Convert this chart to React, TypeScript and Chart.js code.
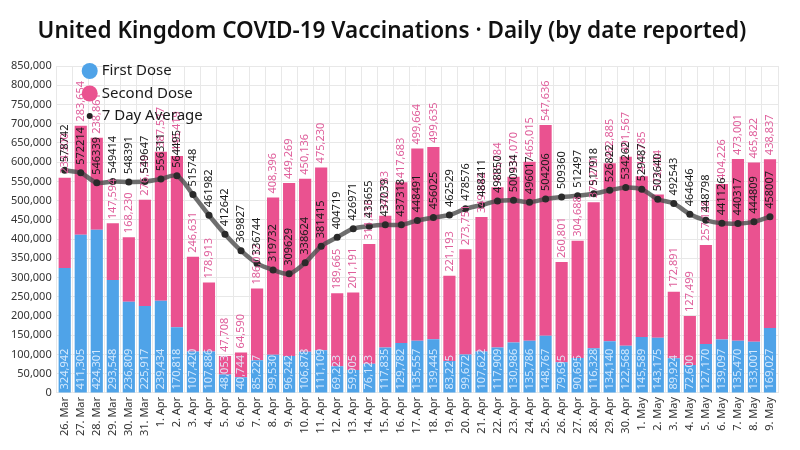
import { useEffect, useRef } from 'react';
import { Chart, registerables } from 'chart.js';

Chart.register(...registerables);

const dates = [
  '26. Mar', '27. Mar', '28. Mar', '29. Mar', '30. Mar', '31. Mar',
  '1. Apr', '2. Apr', '3. Apr', '4. Apr', '5. Apr', '6. Apr', '7. Apr', '8. Apr', '9. Apr', '10. Apr',
  '11. Apr', '12. Apr', '13. Apr', '14. Apr', '15. Apr', '16. Apr', '17. Apr', '18. Apr', '19. Apr', '20. Apr',
  '21. Apr', '22. Apr', '23. Apr', '24. Apr', '25. Apr', '26. Apr', '27. Apr', '28. Apr', '29. Apr', '30. Apr',
  '1. May', '2. May', '3. May', '4. May', '5. May', '6. May', '7. May', '8. May', '9. May',
];

const firstDose = [
  324942, 411305, 424301, 293548, 236809, 225917, 239434, 170818, 107420, 107886,
  48053, 40744, 85227, 99530, 96242, 106878, 111109, 69223, 59905, 76123,
  117835, 129782, 135557, 139445, 83225, 99672, 107622, 117909, 130986, 135786,
  148767, 79695, 90695, 116328, 134140, 122568, 145589, 143175, 89924, 72600,
  127170, 139097, 135470, 133001, 169027,
];

const secondDose = [
  234300, 283654, 238861, 147594, 168230, 276530, 387537, 445419, 246631, 178913,
  47708, 64590, 186012, 408396, 449269, 450136, 475230, 189665, 201191, 311216,
  342783, 417683, 499664, 499635, 221193, 273751, 349842, 416784, 431070, 465015,
  547636, 260801, 304688, 379210, 462885, 491567, 417785, 372404, 172891, 127499,
  257128, 404226, 473001, 465822, 438837,
];

const sevenDayAvg = [
  578742, 572214, 546339, 549414, 548391, 549647, 556311, 564495, 515748, 461982,
  412642, 369827, 336744, 319732, 309629, 338624, 381415, 404719, 426971, 433655,
  437039, 437318, 448491, 456025, 462529, 478576, 488411, 498850, 500934, 496017,
  504206, 509360, 512497, 517918, 526822, 534262, 529487, 503640, 492543, 464646,
  448798, 441126, 440317, 444809, 458007,
];

const seriesNames = ['First Dose', 'Second Dose', '7 Day Average'];

const BLUE = '#4fa3e8';
const PINK = '#ea5290';
const PINK_TEXT = '#df5f9b';
const FONT = '"Noto Sans", sans-serif';

const fmt = (v: number) => v.toLocaleString('en-US');

const labelPlugin = {
  id: 'valueLabels',
  afterDatasetsDraw(chart: any) {
    const ctx = chart.ctx as CanvasRenderingContext2D;
    const drawV = (x: number, y: number, text: string, color: string) => {
      ctx.save();
      ctx.translate(x, y);
      ctx.rotate(-Math.PI / 2);
      ctx.fillStyle = color;
      ctx.fillText(text, 0, 0);
      ctx.restore();
    };
    ctx.save();
    ctx.font = `11px ${FONT}`;
    ctx.textAlign = 'left';
    ctx.textBaseline = 'middle';
    chart.getDatasetMeta(0).data.forEach((el: any, i: number) => {
      const p = el.getProps(['x', 'base'], true);
      drawV(p.x, p.base - 3, fmt(firstDose[i]), 'rgba(225,240,255,0.9)');
    });
    chart.getDatasetMeta(1).data.forEach((el: any, i: number) => {
      const p = el.getProps(['x', 'y'], true);
      drawV(p.x, p.y - 4, fmt(secondDose[i]), PINK_TEXT);
    });
    chart.getDatasetMeta(2).data.forEach((el: any, i: number) => {
      const p = el.getProps(['x', 'y'], true);
      drawV(p.x, p.y - 8, String(sevenDayAvg[i]), '#1a1a1a');
    });
    ctx.restore();
  },
};

const legendPlugin = {
  id: 'innerLegend',
  afterDraw(chart: any) {
    const ctx = chart.ctx as CanvasRenderingContext2D;
    const { left, top } = chart.chartArea;
    const items = [
      { label: seriesNames[0], color: BLUE, r: 8 },
      { label: seriesNames[1], color: PINK, r: 8 },
      { label: seriesNames[2], color: '#222', r: 3 },
    ];
    ctx.save();
    ctx.font = `15px ${FONT}`;
    ctx.textBaseline = 'middle';
    ctx.textAlign = 'left';
    items.forEach((it, i) => {
      const cy = top + 5 + i * 22.5;
      const cx = left + 33;
      ctx.beginPath();
      ctx.arc(cx, cy, it.r, 0, Math.PI * 2);
      ctx.fillStyle = it.color;
      ctx.fill();
      ctx.fillStyle = '#1a1a1a';
      ctx.fillText(it.label, cx + 12, cy);
    });
    ctx.restore();
  },
};

export default function App() {
  const ref = useRef<HTMLCanvasElement | null>(null);

  useEffect(() => {
    document.body.style.margin = '0';
    if (!ref.current) return;
    const chart = new Chart(ref.current, {
      type: 'bar',
      data: {
        labels: dates,
        datasets: [
          {
            type: 'bar',
            label: seriesNames[0],
            data: firstDose,
            backgroundColor: BLUE,
            stack: 'doses',
            order: 2,
            categoryPercentage: 1,
            barPercentage: 0.76,
          },
          {
            type: 'bar',
            label: seriesNames[1],
            data: secondDose,
            backgroundColor: PINK,
            stack: 'doses',
            order: 2,
            categoryPercentage: 1,
            barPercentage: 0.76,
          },
          {
            type: 'line',
            label: seriesNames[2],
            data: sevenDayAvg,
            borderColor: 'rgba(75,75,75,0.8)',
            borderWidth: 4.5,
            pointRadius: 3.5,
            pointBackgroundColor: '#2a2a2a',
            pointBorderWidth: 0,
            tension: 0.3,
            order: 1,
          } as any,
        ],
      },
      options: {
        animation: false,
        responsive: false,
        layout: { padding: { top: 6, left: 6, right: 22, bottom: 10 } },
        plugins: {
          legend: { display: false },
          tooltip: { enabled: false },
          title: {
            display: true,
            text: 'United Kingdom COVID-19 Vaccinations · Daily (by date reported)',
            color: '#111',
            font: { family: FONT, size: 22.5, weight: 600 as any },
            padding: { top: 12, bottom: 21 },
          },
        },
        scales: {
          x: {
            stacked: true,
            grid: { color: '#e8e8e8', drawTicks: false },
            border: { display: false },
            ticks: {
              color: '#333',
              font: { family: FONT, size: 11 },
              maxRotation: 90,
              minRotation: 90,
              autoSkip: false,
              padding: 4,
            },
          },
          y: {
            stacked: true,
            min: 0,
            max: 850000,
            grid: { color: '#e8e8e8', drawTicks: false },
            border: { display: false },
            ticks: {
              stepSize: 50000,
              color: '#333',
              font: { family: FONT, size: 11 },
              padding: 5,
              callback: (v: any) => fmt(Number(v)),
            },
          },
        },
      },
      plugins: [labelPlugin, legendPlugin],
    });
    return () => chart.destroy();
  }, []);

  return (
    <div style={{ width: 800, height: 450, background: '#fff' }}>
      <canvas ref={ref} width={800} height={450} style={{ display: 'block' }} />
    </div>
  );
}
